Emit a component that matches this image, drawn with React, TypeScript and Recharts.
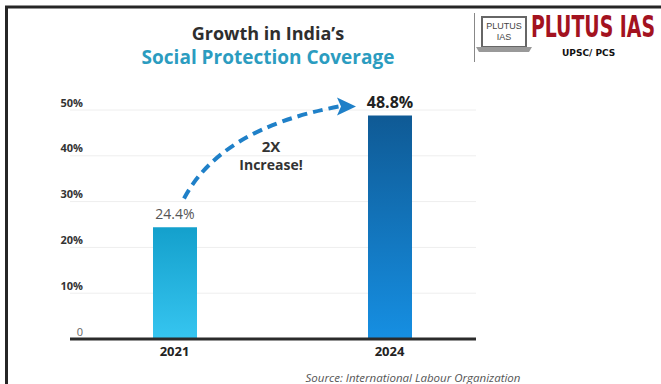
import React from 'react';
import { BarChart, Bar, XAxis, YAxis, CartesianGrid, Cell, LabelList } from 'recharts';

const years = ['2021', '2024'];
const coverage = [24.4, 48.8];
const valueLabels = ['24.4%', '48.8%'];
const gridTicks = [0, 5, 10, 15, 20, 25, 30, 35, 40, 45, 50];
const barGradients = [
  ['#14a0cc', '#36c5f0'],
  ['#0f5a95', '#168fe2'],
];

const data = years.map((year, i) => ({ year, value: coverage[i], label: valueLabels[i] }));

const font = '"Open Sans", "Noto Sans", sans-serif';

const YTick = (props: any) => {
  const { x, y, payload } = props;
  const v = payload.value as number;
  if (v % 10 !== 0) return null;
  const isZero = v === 0;
  return (
    <text
      x={x + 13}
      y={y - 8}
      textAnchor="end"
      dominantBaseline="central"
      fontFamily={font}
      fontSize={11}
      fontWeight={isZero ? 400 : 700}
      fill={isZero ? '#666' : '#333'}
    >
      {isZero ? '0' : `${v}%`}
    </text>
  );
};

// value labels; the 2024 one also carries the "2X" arrow
const BarLabel = (props: any) => {
  const { x, y, width, index } = props;
  const cx = x + width / 2;
  if (index === 0) {
    return (
      <text x={cx} y={y - 8} textAnchor="middle" fontFamily={font} fontSize={14} fill="#555">
        {valueLabels[0]}
      </text>
    );
  }
  const tipX = x - 12;
  const tipY = y - 9;
  const startX = tipX - 172;
  const startY = tipY + 92;
  return (
    <g>
      <text x={cx} y={y - 7} textAnchor="middle" fontFamily={font} fontSize={16} fontWeight={700} fill="#222">
        {valueLabels[1]}
      </text>
      <path
        d={`M${startX},${startY} Q${startX + 37},${startY - 70} ${tipX - 17},${tipY}`}
        fill="none"
        stroke="#1f80c8"
        strokeWidth={4}
        strokeDasharray="10 6"
      />
      <polygon
        points={`${tipX},${tipY} ${tipX - 19},${tipY - 9} ${tipX - 15},${tipY} ${tipX - 19},${tipY + 9}`}
        fill="#1f80c8"
      />
      <text x={startX + 87} y={tipY + 46} textAnchor="middle" fontFamily={font} fontSize={15} fontWeight={700} fill="#333">
        2X
      </text>
      <text x={startX + 87} y={tipY + 64} textAnchor="middle" fontFamily={font} fontSize={14} fontWeight={700} fill="#333">
        Increase!
      </text>
    </g>
  );
};

export default function App() {
  return (
    <div style={{ position: 'absolute', left: 0, top: 0, width: 661, height: 384, background: '#fff', overflow: 'hidden' }}>
      <svg width={661} height={384} style={{ position: 'absolute', left: 0, top: 0 }}>
        <line x1={5} y1={7} x2={661} y2={7} stroke="#262626" strokeWidth={3} />
        <line x1={6.5} y1={6} x2={6.5} y2={384} stroke="#262626" strokeWidth={3} />
        <text x={268} y={40} textAnchor="middle" fontFamily={font} fontSize={18} fontWeight={700} fill="#2e2e2e">
          Growth in India’s
        </text>
        <text x={268} y={64} textAnchor="middle" fontFamily={font} fontSize={19} fontWeight={700} fill="#2b9cc0">
          Social Protection Coverage
        </text>
        {/* logo */}
        <line x1={474.5} y1={13} x2={474.5} y2={62} stroke="#888" strokeWidth={1} />
        <rect x={482} y={17} width={44} height={30} fill="#fff" stroke="#666" strokeWidth={2} />
        <path d="M476,47 L532,47 L529,52 L479,52 Z" fill="#999" />
        <text x={504} y={29} textAnchor="middle" fontFamily="'Liberation Sans Narrow', sans-serif" fontSize={9} fill="#444">PLUTUS</text>
        <text x={504} y={40} textAnchor="middle" fontFamily="'Liberation Sans Narrow', sans-serif" fontSize={9} fill="#444">IAS</text>
        <text
          transform="translate(531,37) scale(1,1.45)"
          x={0}
          y={0}
          fontFamily="'Liberation Sans Narrow', 'DejaVu Sans Condensed', sans-serif"
          fontSize={21}
          fontWeight={700}
          fill="#a3121f"
        >
          PLUTUS IAS
        </text>
        <text x={562} y={56} fontFamily="'DejaVu Sans', sans-serif" fontSize={9} fontWeight={700} fill="#111">
          UPSC/ PCS
        </text>
        <text x={413} y={382} textAnchor="middle" fontFamily={font} fontSize={11.5} fontStyle="italic" fill="#555">
          Source: International Labour Organization
        </text>
      </svg>
      <div style={{ position: 'absolute', left: 0, top: 0 }}>
        <BarChart width={661} height={384} data={data} margin={{ top: 110, right: 185, bottom: 15, left: 0 }}>
          <defs>
            {barGradients.map((g, i) => (
              <linearGradient key={i} id={`bar${i}`} x1="0" y1="0" x2="0" y2="1">
                <stop offset="0%" stopColor={g[0]} />
                <stop offset="100%" stopColor={g[1]} />
              </linearGradient>
            ))}
          </defs>
          <CartesianGrid vertical={false} stroke="#eeeeee" strokeWidth={1} />
          <XAxis
            dataKey="year"
            height={30}
            padding={{ left: -3, right: -21 }}
            axisLine={{ stroke: '#2b2b2b', strokeWidth: 3 }}
            tickLine={false}
            tick={{ fontFamily: font, fontSize: 13, fontWeight: 700, fill: '#222' }}
          />
          <YAxis
            width={70}
            domain={[0, 50]}
            ticks={gridTicks}
            axisLine={false}
            tickLine={false}
            tickSize={0}
            tickMargin={0}
            tick={<YTick />}
          />
          <Bar dataKey="value" barSize={44} isAnimationActive={false}>
            {data.map((d, i) => (
              <Cell key={d.year} fill={`url(#bar${i})`} />
            ))}
            <LabelList dataKey="label" content={<BarLabel />} />
          </Bar>
        </BarChart>
      </div>
    </div>
  );
}
